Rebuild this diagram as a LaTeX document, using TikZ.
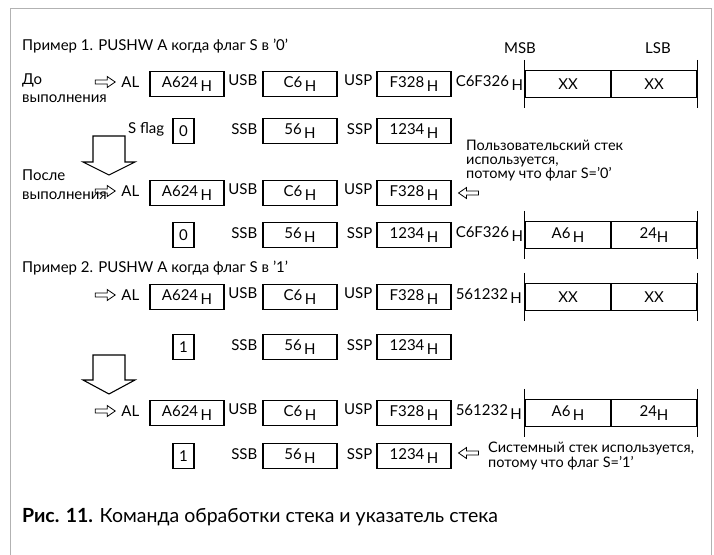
\documentclass[tikz,border=0pt]{standalone}
\usepackage{fontspec}
\setmainfont{Lato}
\usetikzlibrary{positioning}

\newcommand\hx[1]{#1\,\raisebox{-4pt}{H}}
\tikzset{
  rpoint/.pic={\draw[line width=0.8pt] (0,-2)--(12,-2)--(12,-5.5)--(20,0)--(12,5.5)--(12,2)--(0,2)--cycle;},
  lpoint/.pic={\draw[line width=0.8pt] (0,0)--(8,-5.5)--(8,-2)--(20,-2)--(20,2)--(8,2)--(8,5.5)--cycle;}
}

\begin{document}
\begin{tikzpicture}[x=1pt,y=-1pt,font=\fontsize{15}{17}\selectfont,
  reg/.style={draw, line width=1.1pt, minimum width=74pt, minimum height=25pt, inner sep=0pt},
  flagbox/.style={reg, minimum width=21pt},
  cell/.style={draw, line width=1.1pt, minimum width=86pt, minimum height=27pt, inner sep=0pt},
  lbl/.style={inner sep=0pt},
  downarrow/.style={draw, line width=1.1pt, line join=miter}]
\useasboundingbox (0,0) rectangle (714,554);
\draw[gray!60, line width=1pt] (10,560) -- (10,8) -- (711,8) -- (711,560);

% example 1
\node[lbl, anchor=west] (t1) at (22,46) {Пример 1. PUSHW A когда флаг S в '0'};
\node[lbl] (msb) at (520,48) {MSB};
\node[lbl] (lsb) at (658,48) {LSB};

% before
\node[lbl, anchor=base west] (do) at (22,84) {До};
\node[lbl, anchor=base west] (dov) at (22,102) {выполнения};
\node[reg] (a1) at (187,84) {\hx{A624}};
\node[reg] (u1) at (300,84) {\hx{C6}};
\node[reg] (p1) at (414,84) {\hx{F328}};
\node[lbl, left=10pt of a1, yshift=2pt] (al1) {AL};
\pic at ([xshift=-26pt]al1.west) {rpoint};
\node[lbl, left=5pt of u1, yshift=4pt] {USB};
\node[lbl, left=4pt of p1, yshift=4pt] {USP};
\node[lbl, right=4pt of p1, yshift=1pt] (ad1) {\hx{C6F326}};
\node[cell] (s1a) at (568,84) {XX};
\node[cell] (s1b) at (654,84) {XX};
\draw[line width=1.1pt] ([yshift=10pt]s1a.north west) -- ([yshift=-10pt]s1a.south west);
\draw[line width=1.1pt] ([yshift=10pt]s1b.north east) -- ([yshift=-10pt]s1b.south east);

\node[flagbox] (f2) at (183.5,131) {0};
\node[reg] (b2) at (300,131) {\hx{56}};
\node[reg] (q2) at (414,131) {\hx{1234}};
\node[lbl, left=8pt of f2, yshift=2pt] {S flag};
\node[lbl, left=5pt of b2, yshift=2pt] {SSB};
\node[lbl, left=4pt of q2, yshift=2pt] {SSP};
\node[lbl, anchor=west, align=left, font=\fontsize{14.5}{14}\selectfont] (n1) at (466,161)
  {Пользовательский стек\\используется,\\потому что флаг S='0'};

\draw[downarrow] (93,136) -- (125,136) -- (125,162) -- (135,162) -- (109,175) -- (83,162) -- (93,162) -- cycle;

% after
\node[lbl, anchor=base west] (po) at (22,180) {После};
\node[lbl, anchor=base west] (pov) at (22,199) {выполнения};
\node[reg] (a3) at (187,193) {\hx{A624}};
\node[reg] (u3) at (300,193) {\hx{C6}};
\node[reg] (p3) at (414,193) {\hx{F328}};
\node[lbl, left=10pt of a3, yshift=2pt] (al3) {AL};
\pic at ([xshift=-26pt]al3.west) {rpoint};
\node[lbl, left=5pt of u3, yshift=4pt] {USB};
\node[lbl, left=4pt of p3, yshift=4pt] {USP};
\pic at ([xshift=7pt]p3.east) {lpoint};

\node[flagbox] (f4) at (183.5,235) {0};
\node[reg] (b4) at (300,235) {\hx{56}};
\node[reg] (q4) at (414,235) {\hx{1234}};
\node[lbl, left=5pt of b4, yshift=2pt] {SSB};
\node[lbl, left=4pt of q4, yshift=2pt] {SSP};
\node[lbl, right=4pt of q4, yshift=1pt] (ad4) {\hx{C6F326}};
\node[cell] (s4a) at (568,235) {\hx{A6}};
\node[cell] (s4b) at (654,235) {24\raisebox{-4pt}{H}};
\draw[line width=1.1pt] ([yshift=10pt]s4a.north west) -- ([yshift=-10pt]s4a.south west);
\draw[line width=1.1pt] ([yshift=10pt]s4b.north east) -- ([yshift=-10pt]s4b.south east);

% example 2
\node[lbl, anchor=west] (t2) at (22,268) {Пример 2. PUSHW A когда флаг S в '1'};

\node[reg] (a5) at (187,297) {\hx{A624}};
\node[reg] (u5) at (300,297) {\hx{C6}};
\node[reg] (p5) at (414,297) {\hx{F328}};
\node[lbl, left=10pt of a5, yshift=2pt] (al5) {AL};
\pic at ([xshift=-26pt]al5.west) {rpoint};
\node[lbl, left=5pt of u5, yshift=4pt] {USB};
\node[lbl, left=4pt of p5, yshift=4pt] {USP};
\node[lbl, right=4pt of p5, yshift=1pt] (ad5) {\hx{561232}};
\node[cell] (s5a) at (568,297) {XX};
\node[cell] (s5b) at (654,297) {XX};
\draw[line width=1.1pt] ([yshift=10pt]s5a.north west) -- ([yshift=-10pt]s5a.south west);
\draw[line width=1.1pt] ([yshift=10pt]s5b.north east) -- ([yshift=-10pt]s5b.south east);

\node[flagbox] (f6) at (183.5,347) {1};
\node[reg] (b6) at (300,347) {\hx{56}};
\node[reg] (q6) at (414,347) {\hx{1234}};
\node[lbl, left=5pt of b6, yshift=2pt] {SSB};
\node[lbl, left=4pt of q6, yshift=2pt] {SSP};

\draw[downarrow] (93,355) -- (125,355) -- (125,380) -- (135,380) -- (109,394) -- (83,380) -- (93,380) -- cycle;

\node[reg] (a7) at (187,413) {\hx{A624}};
\node[reg] (u7) at (300,413) {\hx{C6}};
\node[reg] (p7) at (414,413) {\hx{F328}};
\node[lbl, left=10pt of a7, yshift=2pt] (al7) {AL};
\pic at ([xshift=-26pt]al7.west) {rpoint};
\node[lbl, left=5pt of u7, yshift=4pt] {USB};
\node[lbl, left=4pt of p7, yshift=4pt] {USP};
\node[lbl, right=4pt of p7, yshift=1pt] (ad7) {\hx{561232}};
\node[cell] (s7a) at (568,413) {\hx{A6}};
\node[cell] (s7b) at (654,413) {24\raisebox{-4pt}{H}};
\draw[line width=1.1pt] ([yshift=10pt]s7a.north west) -- ([yshift=-10pt]s7a.south west);
\draw[line width=1.1pt] ([yshift=10pt]s7b.north east) -- ([yshift=-10pt]s7b.south east);

\node[flagbox] (f8) at (183.5,456) {1};
\node[reg] (b8) at (300,456) {\hx{56}};
\node[reg] (q8) at (414,456) {\hx{1234}};
\node[lbl, left=5pt of b8, yshift=2pt] {SSB};
\node[lbl, left=4pt of q8, yshift=2pt] {SSP};
\pic at ([xshift=7pt,yshift=3pt]q8.east) {lpoint};
\node[lbl, anchor=west, align=left, font=\fontsize{14.5}{13}\selectfont] (n8) at (488,456)
  {Системный стек используется,\\потому что флаг S='1'};

% caption
\node[lbl, anchor=west, font=\fontsize{19.5}{21}\selectfont] (cap) at (22,517)
  {\textbf{Рис. 11.} Команда обработки стека и указатель стека};
\end{tikzpicture}
\end{document}
